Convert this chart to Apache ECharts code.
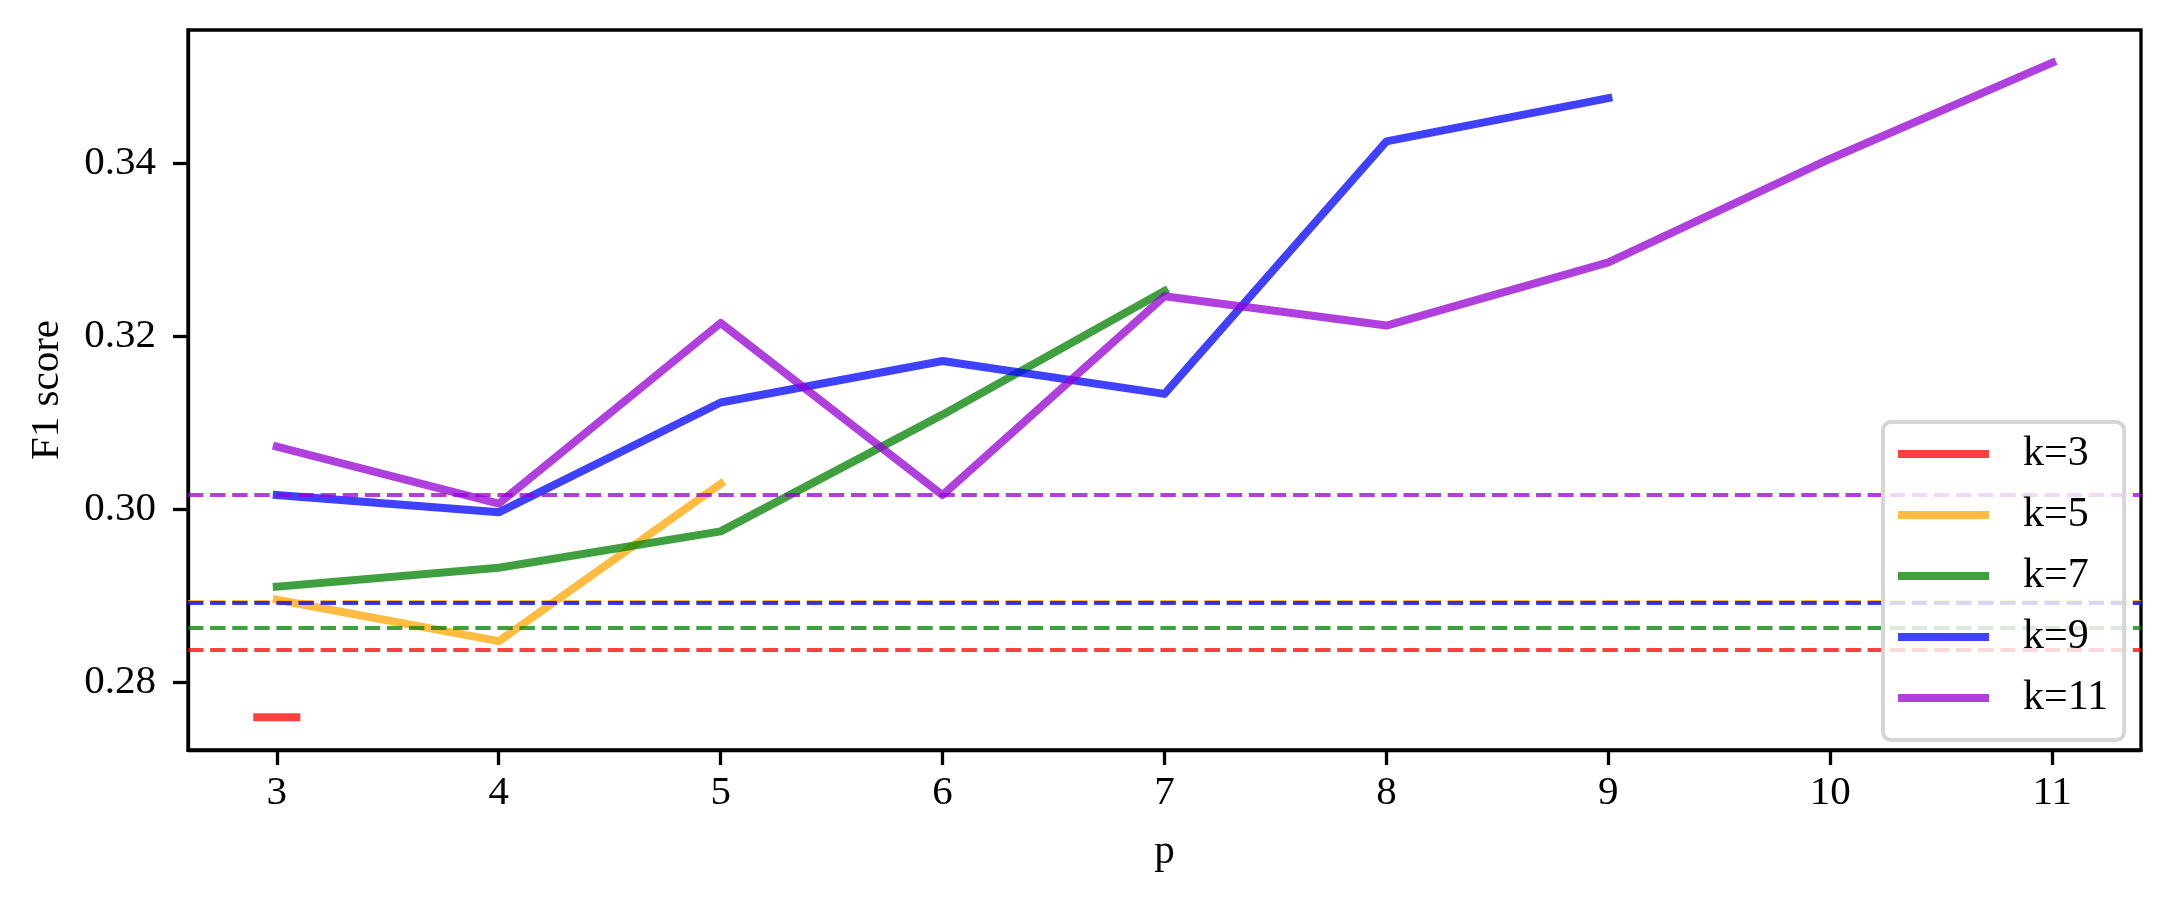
<!DOCTYPE html>
<html>
<head>
<meta charset="utf-8">
<script src="https://cdn.jsdelivr.net/npm/echarts@6/dist/echarts.min.js"></script>
<style>
  html, body { margin: 0; padding: 0; background: #fff; }
  #chart { width: 2169px; height: 902px; }
</style>
</head>
<body>
<div id="chart"></div>
<script>
// p values on the x axis
const pTicks = [3, 4, 5, 6, 7, 8, 9, 10, 11];
const yTicks = [0.28, 0.30, 0.32, 0.34];

// F1 score per k, starting at p=3
const k3 = [0.2759];
const k5 = [0.2895, 0.2847, 0.3029];
const k7 = [0.2910, 0.2932, 0.2974, 0.3109, 0.3252];
const k9 = [0.3016, 0.2996, 0.3123, 0.3171, 0.3133, 0.3425, 0.3475];
const k11 = [0.3072, 0.3006, 0.3215, 0.3016, 0.3246, 0.3212, 0.3285, 0.3405, 0.3516];

// dashed reference level per k
const baselines = [0.2837, 0.2893, 0.2862, 0.2892, 0.3016];

const names = ["k=3", "k=5", "k=7", "k=9", "k=11"];
const colors = [
  "rgba(255,0,0,0.75)",
  "rgba(255,165,0,0.75)",
  "rgba(0,128,0,0.75)",
  "rgba(0,0,255,0.75)",
  "rgba(148,0,211,0.75)",
];
const allSeries = [k3, k5, k7, k9, k11];

const FONT = "'Liberation Serif', 'Times New Roman', serif";

// matplotlib style 5% margins
const allVals = allSeries.flat();
const yLo = Math.min(...allVals), yHi = Math.max(...allVals);
const yPad = (yHi - yLo) * 0.05;
const xPad = (pTicks[pTicks.length - 1] - pTicks[0]) * 0.05;

const chart = echarts.init(document.getElementById("chart"));

const series = allSeries.map((vals, i) => {
  const single = vals.length === 1;
  return {
    name: names[i],
    type: "line",
    data: vals.map((v, j) => [pTicks[j], v]),
    color: colors[i],
    symbol: single ? "rect" : "none",
    symbolSize: single ? [47, 8] : 0,
    showSymbol: single,
    z: 2 + i * 2,
    animation: false,
    lineStyle: { width: 8, color: colors[i], cap: "square", join: "round" },
    itemStyle: { color: colors[i] },
    markLine: {
      silent: true,
      precision: 6,
      symbol: ["none", "none"],
      z: 3 + i * 2,
      label: { show: false },
      animation: false,
      lineStyle: { type: [15.4, 6.7], width: 4.2, color: colors[i] },
      data: [{ yAxis: baselines[i] }],
    },
  };
});

const option = {
  backgroundColor: "#fff",
  grid: {
    left: 188,
    right: 28,
    top: 30,
    bottom: 152,
    show: true,
    borderColor: "#000",
    borderWidth: 3.3,
  },
  xAxis: {
    type: "value",
    min: pTicks[0] - xPad,
    max: pTicks[pTicks.length - 1] + xPad,
    name: "p",
    nameLocation: "middle",
    nameGap: 82,
    nameTextStyle: { fontFamily: FONT, fontSize: 41, color: "#000" },
    axisLine: { show: true, lineStyle: { color: "#000", width: 3.3 } },
    axisTick: {
      show: true,
      length: 15,
      lineStyle: { color: "#000", width: 3.3 },
      customValues: pTicks,
    },
    axisLabel: {
      customValues: pTicks,
      margin: 23,
      fontFamily: FONT,
      fontSize: 41,
      color: "#000",
    },
    splitLine: { show: false },
  },
  yAxis: {
    type: "value",
    min: yLo - yPad,
    max: yHi + yPad,
    name: "F1 score",
    nameLocation: "middle",
    nameGap: 120,
    nameTextStyle: { fontFamily: FONT, fontSize: 41, color: "#000" },
    axisLine: { show: true, lineStyle: { color: "#000", width: 3.3 } },
    axisTick: {
      show: true,
      length: 15,
      lineStyle: { color: "#000", width: 3.3 },
      customValues: yTicks,
    },
    axisLabel: {
      customValues: yTicks,
      margin: 32,
      fontFamily: FONT,
      fontSize: 41,
      color: "#000",
      formatter: (v) => v.toFixed(2),
    },
    splitLine: { show: false },
  },
  legend: {
    data: names,
    orient: "vertical",
    left: 1883,
    top: 422,
    z: 20,
    icon: "rect",
    itemWidth: 91,
    itemHeight: 8,
    itemGap: 19,
    padding: [11, 16, 21, 15],
    backgroundColor: "rgba(255,255,255,0.8)",
    borderColor: "#d6d6d6",
    borderWidth: 4,
    borderRadius: 8,
    textStyle: {
      fontFamily: FONT,
      fontSize: 42,
      lineHeight: 40,
      color: "#000",
      padding: [0, 0, 0, 29],
    },
    selectedMode: false,
  },
  series: series,
};

chart.setOption(option);
</script>
</body>
</html>
